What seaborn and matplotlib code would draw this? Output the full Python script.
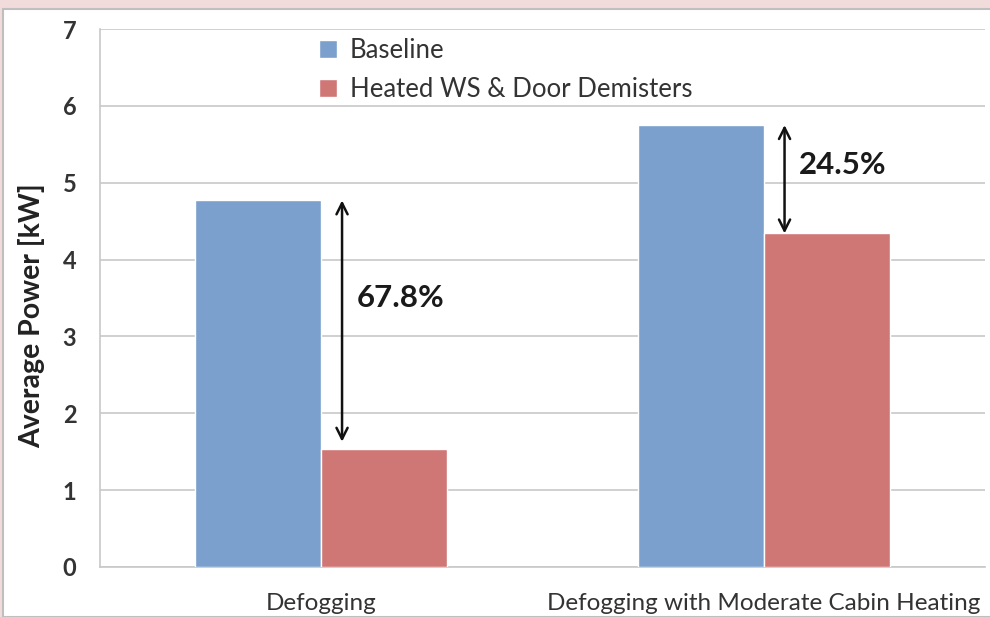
import pandas as pd
import matplotlib.pyplot as plt
import seaborn as sns
from matplotlib.patches import Rectangle

# Data
categories = ["Defogging", "Defogging with Moderate Cabin Heating"]
baseline = [4.77, 5.75]
heated = [1.53, 4.34]
reductions = ["67.8%", "24.5%"]
series_names = ["Baseline", "Heated WS & Door Demisters"]

df = pd.DataFrame({
    "Case": categories * 2,
    "Power": baseline + heated,
    "Config": [series_names[0]] * 2 + [series_names[1]] * 2,
})

sns.set_style("white")
plt.rcParams['font.family'] = ['Lato', 'DejaVu Sans']

fig = plt.figure(figsize=(9.9, 6.17), dpi=100)
fig.patch.set_facecolor('#f2dcdb')
# white chart area with thin grey frame
frame = Rectangle((3 / 990, 0), 1, 1 - 9 / 617, transform=fig.transFigure,
                  facecolor='white', edgecolor='#bfbfbf', linewidth=1.5, zorder=-10)
fig.add_artist(frame)

ax = fig.add_axes([100 / 990, 50 / 617, 885 / 990, 538 / 617])
ax.set_facecolor('none')

sns.barplot(data=df, x="Case", y="Power", hue="Config", ax=ax, width=0.57,
            palette=['#7ba0cd', '#cf7775'], saturation=1, errorbar=None, zorder=3)

ax.set_ylim(0, 7)
ax.set_xlim(-0.5, 1.5)
ax.set_yticks(range(8))
ax.yaxis.grid(True, color='#c8c8c8', linewidth=1.2, zorder=0)
ax.set_axisbelow(True)
for s in ['top', 'right']:
    ax.spines[s].set_visible(False)
ax.spines['left'].set_color('#c8c8c8')
ax.spines['bottom'].set_color('#c8c8c8')
ax.spines['left'].set_linewidth(1.2)
ax.spines['bottom'].set_linewidth(1.2)

ax.set_xticks([0, 1])
ax.set_xticklabels(categories, fontsize=17.5, color='#333333')
ax.set_xticks([-0.5, 0.5, 1.5], minor=True)
ax.tick_params(axis='x', which='major', length=0, pad=19)
ax.tick_params(axis='x', which='minor', length=7, color='#c8c8c8', width=1.2)
ax.tick_params(axis='y', length=7, color='#c8c8c8', width=1.2, labelsize=17,
               labelcolor='#333333', pad=10)
for lab in ax.get_yticklabels():
    lab.set_fontweight('bold')

ax.set_xlabel("")
ax.set_ylabel("Average Power [kW]", fontsize=20.5, fontweight='bold', color='#222222')
ax.yaxis.set_label_coords(-0.062, 0.468)

# reduction arrows and labels
arrow_gap = [0.1, 0.0]
label_shift = [0.35, 0.18]
for i in range(len(categories)):
    ax.annotate("", xy=(i + 0.047, heated[i] + arrow_gap[i]), xytext=(i + 0.047, baseline[i]),
                arrowprops=dict(arrowstyle='<->', color='#111111', lw=1.8,
                                shrinkA=0, shrinkB=0, mutation_scale=20))
    mid = (baseline[i] + heated[i]) / 2 + label_shift[i]
    ax.text(i + 0.08, mid, reductions[i], fontsize=22.5, fontweight='bold',
            color='#1a1a1a', va='center', ha='left')

handles, labels = ax.get_legend_handles_labels()
ax.legend(handles, labels, loc='upper left', bbox_to_anchor=(296 / 990, 1 - 15 / 617),
          bbox_transform=fig.transFigure, frameon=False, fontsize=18.5,
          handlelength=0.7, handleheight=0.7, handletextpad=0.5, labelspacing=0.55,
          labelcolor='#333333')

fig.savefig("out.png", dpi=100)
